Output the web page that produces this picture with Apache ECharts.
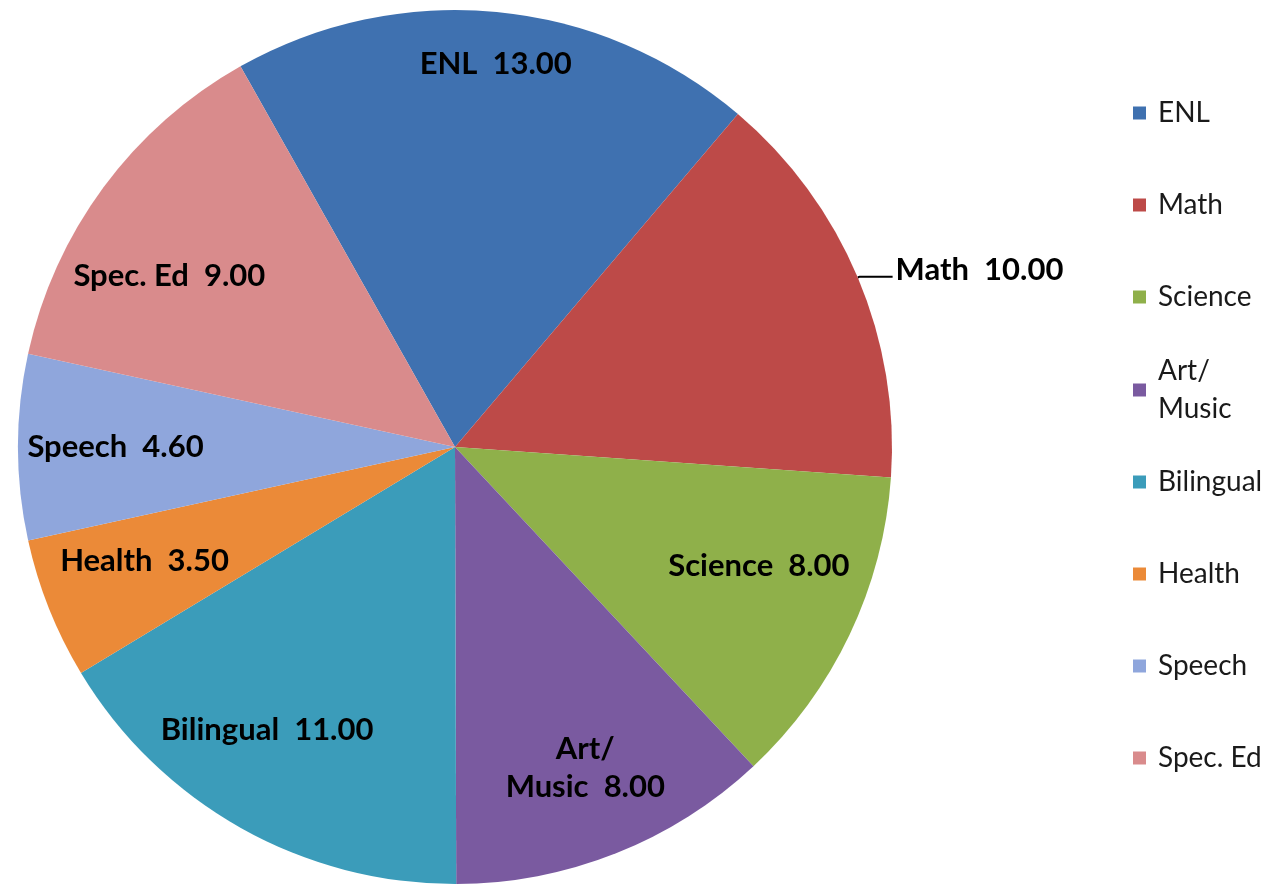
<!DOCTYPE html>
<html>
<head>
<meta charset="utf-8">
<script src="https://cdn.jsdelivr.net/npm/echarts@6/dist/echarts.min.js"></script>
<style>
html,body{margin:0;padding:0;background:#fff;}
#chart{width:1270px;height:884px;}
</style>
</head>
<body>
<div id="chart"></div>
<script>
// ---- data ----
const categories = ['ENL', 'Math', 'Science', 'Art/Music', 'Bilingual', 'Health', 'Speech', 'Spec. Ed'];
const values = [13.00, 10.00, 8.00, 8.00, 11.00, 3.50, 4.60, 9.00];
const colors = ['#3F71B0', '#BD4A48', '#8FB04A', '#7A5AA0', '#3B9CBA', '#EB8A38', '#8FA6DC', '#D98B8C'];

// ---- layout (styles) ----
const CX = 455, CY = 447, R = 437;
const START = 119.4;
const labelRadius = [0.875, null, 0.74, 0.785, 0.77, 0.75, 0.77, 0.755];
const labelAngleShift = [-0.6, 0, 4.1, 0.5, -4.3, -1.6, 0, 5.6];

const total = values.reduce((a, b) => a + b, 0);
const fmtName = n => n.replace('/', '/\n');
const labelText = p => fmtName(p.name) + '  ' + p.value.toFixed(2);

let acc = 0;
const pieData = categories.map((name, i) => {
  const span = values[i] / total * 360;
  const mid = START - acc - span / 2;
  acc += span;
  const item = { name: name, value: values[i], itemStyle: { color: colors[i] } };
  if (labelRadius[i] === null) {
    item.label = {
      position: 'outside', align: 'left', distanceToLabelLine: 3,
      formatter: p => '{m|' + labelText(p) + '}',
      rich: { m: { fontFamily: 'Lato', fontWeight: 'bold', fontSize: 31, color: '#000', lineHeight: 38, padding: [0, 0, 14, 0] } }
    };
    item.labelLine = { show: true, length: 2, length2: 33, lineStyle: { color: '#000', width: 2 } };
  } else {
    const th = mid * Math.PI / 180;
    const th2 = (mid + labelAngleShift[i]) * Math.PI / 180;
    const dx = labelRadius[i] * R * Math.cos(th2) - 0.5 * R * Math.cos(th);
    const dy = -labelRadius[i] * R * Math.sin(th2) + 0.5 * R * Math.sin(th);
    item.label = { position: 'inside', offset: [dx, dy] };
    item.labelLine = { show: false };
  }
  return item;
});

const legendText = { fontFamily: 'Lato', fontSize: 28, color: '#1a1a1a', lineHeight: 34, padding: [0, 0, 0, 7] };
const legendCommon = {
  orient: 'vertical', left: 1133, padding: 0, icon: 'rect', itemWidth: 13, itemHeight: 13,
  itemGap: 58, selectedMode: false, textStyle: legendText, formatter: fmtName
};

const chart = echarts.init(document.getElementById('chart'));
chart.setOption({
  animation: false,
  backgroundColor: '#fff',
  color: colors,
  legend: [
    Object.assign({}, legendCommon, { top: 96, data: categories.slice(0, 3) }),
    Object.assign({}, legendCommon, {
      top: 333, data: [categories[3]],
      textStyle: Object.assign({}, legendText, { lineHeight: 38, padding: [38, 0, 0, 7] })
    }),
    Object.assign({}, legendCommon, { top: 465, data: categories.slice(4) })
  ],
  series: [{
    type: 'pie',
    center: [CX, CY],
    radius: [0, R],
    startAngle: START,
    clockwise: true,
    avoidLabelOverlap: false,
    itemStyle: { borderWidth: 0 },
    label: {
      show: true,
      color: '#000',
      fontFamily: 'Lato',
      fontWeight: 'bold',
      fontSize: 31,
      lineHeight: 38,
      align: 'center',
      formatter: labelText
    },
    emphasis: { disabled: true },
    data: pieData
  }]
});
</script>
</body>
</html>
